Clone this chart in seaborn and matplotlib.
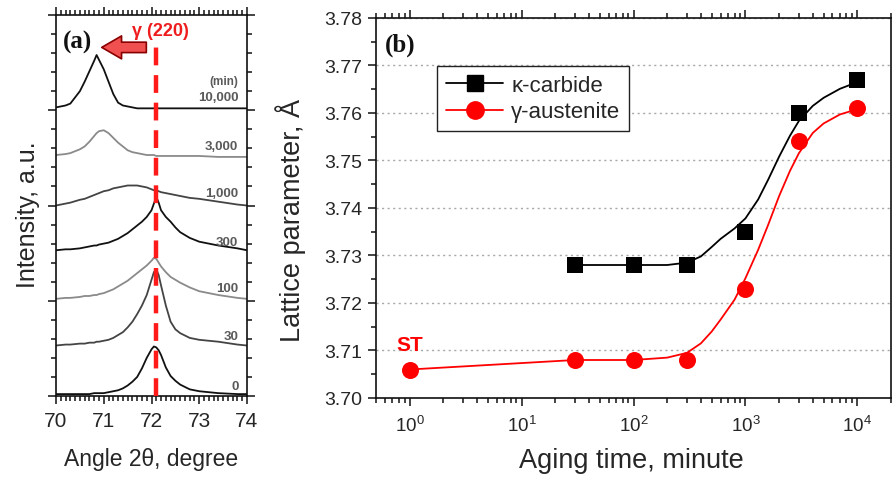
import numpy as np
import pandas as pd
import matplotlib
matplotlib.use("Agg")
import matplotlib.pyplot as plt
import matplotlib.ticker as mticker
from matplotlib.lines import Line2D
import seaborn as sns

# ---------------- Panel (a): XRD gamma(220) peaks ----------------
angle = [70.0, 70.2, 70.3, 70.5, 70.6, 70.7, 70.8, 70.85, 70.9, 71.0, 71.1,
         71.2, 71.3, 71.4, 71.5, 71.6, 71.7, 71.8, 71.9, 72.0, 72.05, 72.1,
         72.15, 72.2, 72.3, 72.4, 72.5, 72.6, 72.8, 73.0, 73.4, 73.8, 74.0]

int_0 = [0.02, 0.02, 0.02, 0.02, 0.02, 0.02, 0.03, 0.03, 0.03, 0.03, 0.04,
         0.05, 0.06, 0.08, 0.11, 0.15, 0.20, 0.29, 0.40, 0.49, 0.52, 0.51,
         0.48, 0.43, 0.30, 0.21, 0.16, 0.12, 0.07, 0.05, 0.03, 0.02, 0.02]
int_30 = [0.53, 0.54, 0.54, 0.55, 0.55, 0.56, 0.56, 0.57, 0.57, 0.58, 0.59,
          0.61, 0.64, 0.67, 0.72, 0.78, 0.86, 0.95, 1.06, 1.22, 1.30, 1.33,
          1.27, 1.16, 0.95, 0.78, 0.70, 0.66, 0.61, 0.59, 0.57, 0.54, 0.53]
int_100 = [1.02, 1.03, 1.03, 1.04, 1.05, 1.05, 1.06, 1.06, 1.07, 1.08, 1.10,
           1.12, 1.15, 1.18, 1.21, 1.25, 1.29, 1.33, 1.37, 1.42, 1.45, 1.44,
           1.40, 1.36, 1.30, 1.25, 1.22, 1.19, 1.14, 1.10, 1.06, 1.03, 1.02]
int_300 = [1.53, 1.54, 1.54, 1.55, 1.56, 1.57, 1.58, 1.58, 1.59, 1.60, 1.61,
           1.63, 1.65, 1.68, 1.71, 1.75, 1.79, 1.83, 1.88, 1.95, 2.02, 2.09,
           2.03, 1.95, 1.88, 1.83, 1.77, 1.72, 1.66, 1.62, 1.58, 1.55, 1.53]
int_1000 = [2.00, 2.02, 2.03, 2.06, 2.07, 2.09, 2.11, 2.12, 2.13, 2.15, 2.16,
            2.18, 2.19, 2.20, 2.21, 2.21, 2.21, 2.20, 2.19, 2.17, 2.16, 2.16,
            2.15, 2.14, 2.13, 2.12, 2.11, 2.10, 2.08, 2.07, 2.04, 2.01, 2.00]
int_3000 = [2.53, 2.54, 2.55, 2.59, 2.62, 2.67, 2.73, 2.76, 2.78, 2.79, 2.76,
            2.71, 2.66, 2.62, 2.58, 2.56, 2.55, 2.54, 2.53, 2.53, 2.53, 2.52,
            2.52, 2.52, 2.52, 2.52, 2.52, 2.52, 2.52, 2.52, 2.51, 2.51, 2.51]
int_10000 = [3.03, 3.05, 3.07, 3.20, 3.30, 3.41, 3.52, 3.58, 3.53, 3.43, 3.30,
             3.17, 3.08, 3.05, 3.04, 3.03, 3.02, 3.02, 3.02, 3.02, 3.02, 3.02,
             3.02, 3.02, 3.02, 3.02, 3.02, 3.02, 3.02, 3.02, 3.02, 3.02, 3.02]

curve_labels = ["10,000", "3,000", "1,000", "300", "100", "30", "0"]
curve_values = [int_10000, int_3000, int_1000, int_300, int_100, int_30, int_0]
curve_colors = ["#111111", "#8a8a8a", "#444444", "#111111", "#8a8a8a", "#444444", "#111111"]
label_y = [3.14, 2.62, 2.13, 1.62, 1.13, 0.63, 0.105]
peak_ref = 72.1

# ---------------- Panel (b): lattice parameters ----------------
time_k = [30, 100, 300, 1000, 3000, 10000]
lat_k = [3.728, 3.728, 3.728, 3.735, 3.760, 3.767]
time_g = [1, 30, 100, 300, 1000, 3000, 10000]
lat_g = [3.706, 3.708, 3.708, 3.708, 3.723, 3.754, 3.761]

fit_time_k = [30, 100, 200, 300, 400, 500, 600, 800, 1000, 1300, 1600, 2000,
              2500, 3000, 4000, 5000, 7000, 10000]
fit_k = [3.728, 3.728, 3.728, 3.7285, 3.7298, 3.7318, 3.7335, 3.7357, 3.7378,
         3.7418, 3.746, 3.7508, 3.7552, 3.7583, 3.7615, 3.7632, 3.7651, 3.7665]
fit_time_g = [1, 30, 100, 200, 300, 400, 500, 600, 800, 1000, 1300, 1600, 2000,
              2500, 3000, 4000, 5000, 7000, 10000]
fit_g = [3.706, 3.708, 3.708, 3.7085, 3.7095, 3.7115, 3.714, 3.7165, 3.7207,
         3.7252, 3.7312, 3.7365, 3.7425, 3.7478, 3.7515, 3.7558, 3.7578, 3.7597, 3.7608]

sns.set_style("ticks")
plt.rcParams['font.family'] = ['Liberation Sans', 'DejaVu Sans']
plt.rcParams['axes.linewidth'] = 1.2

fig = plt.figure(figsize=(8.93, 4.81), dpi=100)
ax1 = fig.add_axes([56 / 893, 1 - 397 / 481, 191 / 893, 381 / 481])
ax2 = fig.add_axes([376 / 893, 1 - 399 / 481, 515 / 893, 380 / 481])

# ---- panel (a)
for lab, vals, col in zip(curve_labels, curve_values, curve_colors):
    sns.lineplot(x=angle, y=vals, ax=ax1, color=col, lw=1.3, zorder=2)
for lab, yy in zip(curve_labels, label_y):
    ax1.text(73.82, yy, lab, ha='right', va='center', fontsize=9.5,
             fontweight='bold', color='#5a5a5a')
ax1.text(73.82, 3.31, "(min)", ha='right', va='center', fontsize=8.5,
         fontweight='bold', color='#5a5a5a')
ax1.plot([peak_ref, peak_ref], [0, 3.66], color='#ff1a1a', lw=3.2,
         dashes=(4, 2.2), zorder=4)
ax1.annotate('', xy=(70.9, 3.66), xytext=(71.95, 3.66),
             arrowprops=dict(arrowstyle='simple,head_width=1.1,head_length=0.95,tail_width=0.5',
                             fc='#f05050', ec='#8a0000', lw=1.2, mutation_scale=15),
             zorder=5)
ax1.text(72.18, 3.84, "γ (220)", ha='center', va='center', fontsize=13,
         fontweight='bold', color='#ee1c1c')
ax1.text(70.15, 3.72, "(a)", ha='left', va='center', fontsize=18,
         fontweight='bold', family='Liberation Serif', color='#111111')

ax1.set_xlim(70, 74)
ax1.set_ylim(0, 4)
ax1.xaxis.set_major_locator(mticker.MultipleLocator(1))
ax1.xaxis.set_minor_locator(mticker.MultipleLocator(0.1))
ax1.yaxis.set_major_locator(mticker.MultipleLocator(1))
ax1.yaxis.set_minor_locator(mticker.MultipleLocator(0.2))
ax1.tick_params(which='both', direction='out', top=True, right=True,
                labelleft=False, labeltop=False, labelright=False, width=1.1,
                color='#111111')
ax1.tick_params(which='major', length=6)
ax1.tick_params(which='minor', length=3.5)
ax1.tick_params(axis='x', labelsize=15, pad=5)
ax1.set_xlabel("Angle 2θ, degree", fontsize=16.5)
ax1.set_ylabel("Intensity, a.u.", fontsize=18)
ax1.xaxis.set_label_coords(0.497, -0.135)
ax1.yaxis.set_label_coords(-0.085, 0.478)
for s in ax1.spines.values():
    s.set_color('#111111')

# ---- panel (b)
sns.lineplot(x=fit_time_k, y=fit_k, ax=ax2, color='black', lw=1.3, zorder=2)
sns.lineplot(x=fit_time_g, y=fit_g, ax=ax2, color='#ff0000', lw=1.3, zorder=2)
sns.scatterplot(x=time_k, y=lat_k, ax=ax2, marker='s', s=120, color='black',
                edgecolor='black', linewidth=0, zorder=3)
sns.scatterplot(x=time_g, y=lat_g, ax=ax2, marker='o', s=150, color='#ff0000',
                edgecolor='#ff0000', linewidth=0, zorder=3)
ax2.set_xscale('log')
ax2.set_xlim(0.5, 20000)
ax2.set_ylim(3.70, 3.78)
ax2.yaxis.set_major_locator(mticker.MultipleLocator(0.01))
ax2.yaxis.set_minor_locator(mticker.MultipleLocator(0.005))
ax2.yaxis.set_major_formatter(mticker.FormatStrFormatter('%.2f'))
ax2.xaxis.set_major_locator(mticker.LogLocator(base=10, numticks=10))
ax2.xaxis.set_minor_locator(mticker.LogLocator(base=10, subs=np.arange(2, 10), numticks=10))
ax2.xaxis.set_major_formatter(mticker.LogFormatterSciNotation())
ax2.yaxis.grid(True, which='major', linestyle=(0, (1.5, 2.5)), color='#a8a8a8', lw=1.0)
ax2.tick_params(which='both', direction='out', top=True, right=False,
                labeltop=False, width=1.1, color='#111111')
ax2.tick_params(which='major', length=6)
ax2.tick_params(which='minor', length=3.5)
ax2.tick_params(axis='y', labelsize=14, pad=4)
ax2.tick_params(axis='x', labelsize=13.5, pad=6)
ax2.set_xlabel("Aging time, minute", fontsize=19.5)
ax2.set_ylabel("Lattice parameter, Å", fontsize=19.5)
ax2.xaxis.set_label_coords(0.496, -0.13)
ax2.yaxis.set_label_coords(-0.135, 0.471)
for s in ax2.spines.values():
    s.set_color('#111111')

ax2.text(1.0, 3.7113, "ST", ha='center', va='center', fontsize=15,
         fontweight='bold', color='#ff0000')
ax2.text(0.6, 3.7745, "(b)", ha='left', va='center', fontsize=18,
         fontweight='bold', family='Liberation Serif', color='#111111')

handles = [Line2D([0], [0], color='black', lw=1.3, marker='s', ms=11),
           Line2D([0], [0], color='#ff0000', lw=1.3, marker='o', ms=12.5)]
leg = ax2.legend(handles, ["κ-carbide", "γ-austenite"], loc='upper left',
                 bbox_to_anchor=(0.118, 0.874), fontsize=16, frameon=True,
                 fancybox=False, edgecolor='#222222', framealpha=1,
                 handlelength=2.6, handletextpad=0.35, borderpad=0.4,
                 labelspacing=0.25, borderaxespad=0)
leg.get_frame().set_linewidth(1.0)

fig.savefig("out.png", dpi=100)
